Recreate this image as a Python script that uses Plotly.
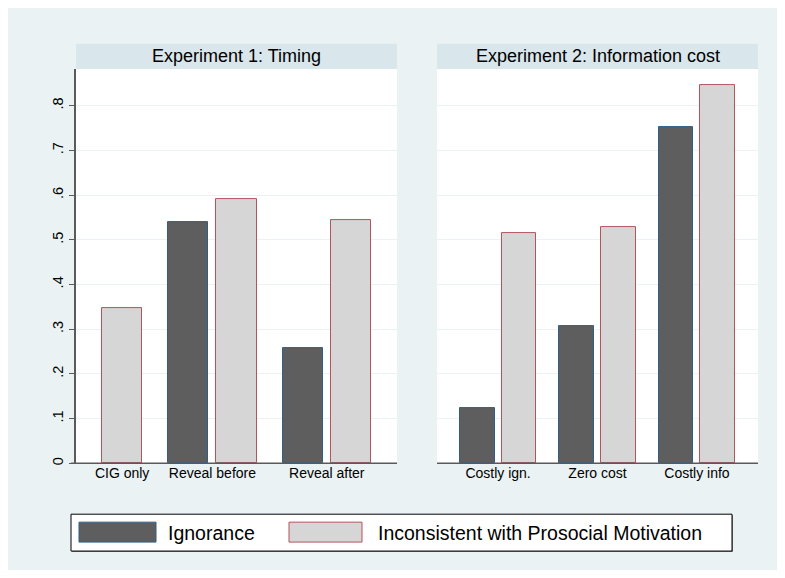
import plotly.graph_objects as go

# ---- data ----
categories_exp1 = ["CIG only", "Reveal before", "Reveal after"]
ignorance_exp1 = [None, 0.539, 0.258]
inconsistent_exp1 = [0.347, 0.590, 0.543]

categories_exp2 = ["Costly ign.", "Zero cost", "Costly info"]
ignorance_exp2 = [0.123, 0.306, 0.752]
inconsistent_exp2 = [0.515, 0.529, 0.845]

series_names = ["Ignorance", "Inconsistent with Prosocial Motivation"]
panel_titles = ["Experiment 1: Timing", "Experiment 2: Information cost"]
ytick_vals = [0, 0.1, 0.2, 0.3, 0.4, 0.5, 0.6, 0.7, 0.8]
ytick_text = ["0", ".1", ".2", ".3", ".4", ".5", ".6", ".7", ".8"]

# ---- styles ----
FILLS = ["#5E5E5E", "#D6D6D6"]
LINES = ["#2F5F86", "#B0555C"]
BG = "#EAF2F3"
STRIP = "#D9E6EB"
AXIS = "#5A5A5A"
FONT = "Liberation Sans, Arial, Helvetica, sans-serif"
OFF = 8                      # page body margin
W, H = 785 - 2 * OFF, 578 - 2 * OFF

BAR, INNER, OUTER = 1.0, 0.2, 0.65


def lay_out(series):
    """Stata-like layout: missing bars are dropped, groups packed."""
    xs = [[] for _ in series]
    ys = [[] for _ in series]
    centers = []
    cur = OUTER
    ncat = len(series[0])
    for i in range(ncat):
        start = cur
        first = True
        for s, vals in enumerate(series):
            v = vals[i]
            if v is None:
                continue
            if not first:
                cur += INNER
            xs[s].append(cur + BAR / 2)
            ys[s].append(v)
            cur += BAR
            first = False
        centers.append((start + cur) / 2)
        cur += OUTER
    return xs, ys, centers, cur


def px_x(v):
    return (v - OFF) / W


def px_y(v):
    return 1 - (v - OFF) / H


fig = go.Figure()

panels = [
    (categories_exp1, [ignorance_exp1, inconsistent_exp1], "x", "y"),
    (categories_exp2, [ignorance_exp2, inconsistent_exp2], "x2", "y2"),
]
domains = [(76, 397), (437, 758)]
plot_top, plot_bot = 69.3, 465.0
y_range_top = (plot_bot - plot_top) / 448.75

axis_layout = {}
for p, (cats, series, xa, ya) in enumerate(panels):
    xs, ys, centers, total = lay_out(series)
    for s in range(len(series)):
        fig.add_trace(go.Bar(
            x=xs[s], y=ys[s], width=BAR, name=series_names[s],
            marker=dict(color=FILLS[s], line=dict(color=LINES[s], width=1)),
            xaxis=xa, yaxis=ya, showlegend=False, hoverinfo="y",
        ))
    xkey = "xaxis" if p == 0 else "xaxis2"
    ykey = "yaxis" if p == 0 else "yaxis2"
    axis_layout[xkey] = dict(
        domain=[px_x(domains[p][0]), px_x(domains[p][1])],
        range=[0, total], tickvals=centers, ticktext=cats,
        showgrid=False, zeroline=False, showline=False, ticks="",
        tickfont=dict(size=14, color="black", family=FONT),
        anchor="y" if p == 0 else "y2", fixedrange=True,
    )
    axis_layout[ykey] = dict(
        domain=[px_y(plot_bot), px_y(plot_top)],
        range=[0, y_range_top], tickvals=ytick_vals, ticktext=ytick_text,
        showgrid=True, gridcolor=BG, gridwidth=1,
        zeroline=False, showline=(p == 0), linecolor=AXIS, linewidth=1.5,
        ticks="outside" if p == 0 else "", ticklen=5, tickcolor=AXIS,
        showticklabels=(p == 0), tickangle=-90,
        tickfont=dict(size=14.5, color="black", family=FONT),
        anchor="x" if p == 0 else "x2", fixedrange=True,
    )

shapes = []
annotations = []
for p in range(2):
    x0, x1 = domains[p]
    # header strip
    shapes.append(dict(type="rect", xref="paper", yref="paper",
                       x0=px_x(x0), x1=px_x(x1), y0=px_y(plot_top), y1=px_y(44),
                       fillcolor=STRIP, line=dict(width=0), layer="below"))
    annotations.append(dict(xref="paper", yref="paper", x=px_x((x0 + x1) / 2),
                            y=px_y(56.5), text=panel_titles[p], showarrow=False,
                            font=dict(size=18, color="black", family=FONT),
                            xanchor="center", yanchor="middle"))
    # x axis baseline
    lx0 = 71 if p == 0 else x0
    shapes.append(dict(type="line", xref="paper", yref="paper",
                       x0=px_x(lx0), x1=px_x(x1), y0=px_y(plot_bot), y1=px_y(plot_bot),
                       line=dict(color=AXIS, width=1.5)))

# legend box
shapes.append(dict(type="rect", xref="paper", yref="paper",
                   x0=px_x(72), x1=px_x(733), y0=px_y(554), y1=px_y(517),
                   fillcolor="#888888", line=dict(width=0)))
shapes.append(dict(type="rect", xref="paper", yref="paper",
                   x0=px_x(71), x1=px_x(732), y0=px_y(553), y1=px_y(516),
                   fillcolor="white", line=dict(color="black", width=1)))
legend_swatches = [(79, 156, 166), (289, 362, 376)]
for s, (sx0, sx1, tx) in enumerate(legend_swatches):
    shapes.append(dict(type="rect", xref="paper", yref="paper",
                       x0=px_x(sx0), x1=px_x(sx1), y0=px_y(544), y1=px_y(524),
                       fillcolor=FILLS[s], line=dict(color=LINES[s], width=1)))
    annotations.append(dict(xref="paper", yref="paper", x=px_x(tx), y=px_y(534.5),
                            text=series_names[s], showarrow=False,
                            font=dict(size=19.5, color="black", family=FONT),
                            xanchor="left", yanchor="middle"))

fig.update_layout(
    width=W, height=H,
    margin=dict(l=0, r=0, t=0, b=0),
    paper_bgcolor=BG, plot_bgcolor="white",
    barmode="overlay", bargap=0,
    shapes=shapes, annotations=annotations,
    showlegend=False,
    font=dict(family=FONT, color="black"),
    **axis_layout,
)

fig.write_html("out.html", config={"displayModeBar": False})
